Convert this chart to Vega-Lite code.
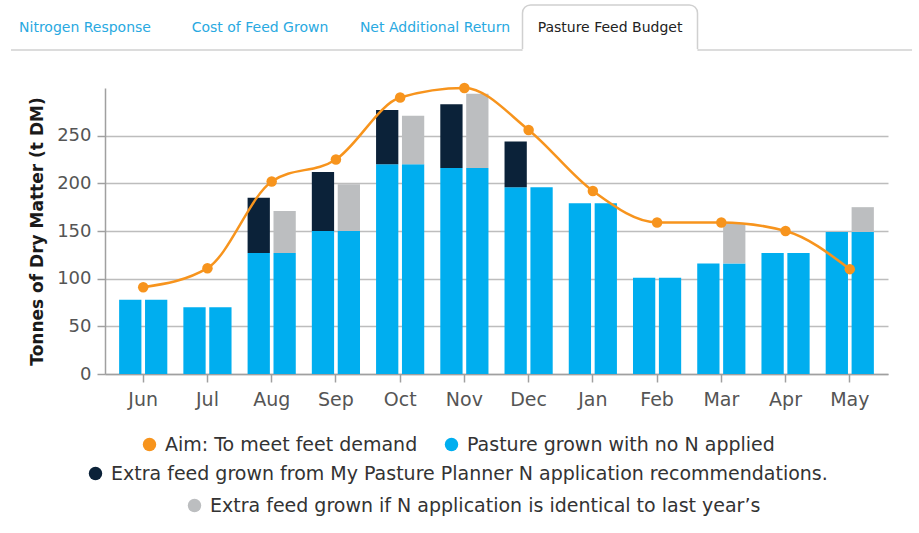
{
  "$schema": "https://vega.github.io/schema/vega-lite/v6.json",
  "background": "white",
  "padding": {"left": 10, "top": 4, "right": 5, "bottom": 5},
  "spacing": 30,
  "config": {
    "font": "DejaVu Sans",
    "view": {"stroke": null},
    "legend": {
      "title": null,
      "padding": 0,
      "labelFontSize": 19,
      "labelColor": "#333333",
      "labelLimit": 1000,
      "labelOffset": 6,
      "symbolType": "circle",
      "symbolSize": 180,
      "symbolStrokeWidth": 0,
      "symbolOpacity": 1
    }
  },
  "datasets": {
    "tabs": [
      {"tab": "Nitrogen Response", "active": false},
      {"tab": "Cost of Feed Grown", "active": false},
      {"tab": "Net Additional Return", "active": false},
      {"tab": "Pasture Feed Budget", "active": true}
    ],
    "frame": [
      {"start": "Nitrogen Response", "end": "e2"}
    ],
    "bars": [
      {"month": "Jun", "bar": "A", "base": 78, "top": 78},
      {"month": "Jun", "bar": "B", "base": 78, "top": 78},
      {"month": "Jul", "bar": "A", "base": 70, "top": 70},
      {"month": "Jul", "bar": "B", "base": 70, "top": 70},
      {"month": "Aug", "bar": "A", "base": 127, "top": 185},
      {"month": "Aug", "bar": "B", "base": 127, "top": 171},
      {"month": "Sep", "bar": "A", "base": 150, "top": 212},
      {"month": "Sep", "bar": "B", "base": 150, "top": 199},
      {"month": "Oct", "bar": "A", "base": 220, "top": 277},
      {"month": "Oct", "bar": "B", "base": 220, "top": 271},
      {"month": "Nov", "bar": "A", "base": 216, "top": 283},
      {"month": "Nov", "bar": "B", "base": 216, "top": 294},
      {"month": "Dec", "bar": "A", "base": 196, "top": 244},
      {"month": "Dec", "bar": "B", "base": 196, "top": 196},
      {"month": "Jan", "bar": "A", "base": 179, "top": 179},
      {"month": "Jan", "bar": "B", "base": 179, "top": 179},
      {"month": "Feb", "bar": "A", "base": 101, "top": 101},
      {"month": "Feb", "bar": "B", "base": 101, "top": 101},
      {"month": "Mar", "bar": "A", "base": 116, "top": 116},
      {"month": "Mar", "bar": "B", "base": 116, "top": 158},
      {"month": "Apr", "bar": "A", "base": 127, "top": 127},
      {"month": "Apr", "bar": "B", "base": 127, "top": 127},
      {"month": "May", "bar": "A", "base": 149, "top": 149},
      {"month": "May", "bar": "B", "base": 149, "top": 175}
    ],
    "aim": [
      {"month": "Jun", "aim": 91},
      {"month": "Jul", "aim": 111},
      {"month": "Aug", "aim": 202},
      {"month": "Sep", "aim": 225},
      {"month": "Oct", "aim": 290},
      {"month": "Nov", "aim": 300},
      {"month": "Dec", "aim": 256},
      {"month": "Jan", "aim": 192},
      {"month": "Feb", "aim": 159},
      {"month": "Mar", "aim": 159},
      {"month": "Apr", "aim": 150},
      {"month": "May", "aim": 110}
    ]
  },
  "vconcat": [
    {
      "width": 783,
      "height": 45,
      "layer": [
        {
          "data": {"name": "frame"},
          "mark": {"type": "rule", "color": "#d0d0d0", "strokeWidth": 1.5},
          "encoding": {
            "x": {"field": "start", "type": "nominal", "bandPosition": 0.077,
              "scale": {"domain": ["Nitrogen Response", "Cost of Feed Grown", "Net Additional Return", "Pasture Feed Budget", "e1", "e2"], "range": [-107.5, 942.5], "paddingInner": 0, "paddingOuter": 0},
              "axis": null},
            "x2": {"field": "end", "bandPosition": 0.226},
            "y": {"datum": 0, "type": "quantitative", "scale": {"domain": [0, 1], "nice": false}, "axis": null}
          }
        },
        {
          "data": {"name": "tabs"},
          "transform": [{"filter": "datum.active"}],
          "mark": {"type": "rect", "fill": "white", "stroke": "#d0d0d0", "strokeWidth": 1.5, "cornerRadiusTopLeft": 8, "cornerRadiusTopRight": 8},
          "encoding": {
            "x": {"field": "tab", "type": "nominal", "axis": null},
            "y": {"datum": 1, "type": "quantitative"},
            "y2": {"datum": 0}
          }
        },
        {
          "data": {"name": "tabs"},
          "transform": [{"filter": "datum.active"}],
          "mark": {"type": "rect", "fill": "white"},
          "encoding": {
            "x": {"field": "tab", "type": "nominal", "axis": null},
            "y": {"datum": 0.025, "type": "quantitative"},
            "y2": {"datum": -0.035}
          }
        },
        {
          "data": {"name": "tabs"},
          "mark": {"type": "text", "fontSize": 14},
          "encoding": {
            "x": {"field": "tab", "type": "nominal", "axis": null},
            "text": {"field": "tab"},
            "color": {"condition": {"test": "datum.active", "value": "#222222"}, "value": "#29a9e1"}
          }
        }
      ]
    },
    {
      "width": 783,
      "height": 286,
      "layer": [
        {
          "data": {"name": "bars"},
          "mark": {"type": "bar", "strokeWidth": 0},
          "encoding": {
            "x": {"field": "month", "type": "nominal",
              "scale": {"domain": ["Jun", "Jul", "Aug", "Sep", "Oct", "Nov", "Dec", "Jan", "Feb", "Mar", "Apr", "May"], "paddingInner": 0.25, "paddingOuter": 0.22},
              "axis": {"title": null, "labelAngle": 0, "labelFontSize": 19, "labelColor": "#555555", "tickSize": 8, "tickColor": "#a0a0a0", "tickWidth": 1.5, "domainColor": "#a0a0a0", "domainWidth": 1.5, "labelPadding": 8, "grid": false}},
            "xOffset": {"field": "bar", "type": "nominal", "scale": {"domain": ["A", "B"], "paddingInner": 0.14, "paddingOuter": 0}},
            "y": {"field": "base", "type": "quantitative", "title": "Tonnes of Dry Matter (t DM)",
              "scale": {"domain": [0, 300], "nice": false},
              "axis": {"values": [0, 50, 100, 150, 200, 250], "grid": true, "gridColor": "#bdbdbd", "gridWidth": 1.5, "domainColor": "#a0a0a0", "domainWidth": 1.5, "tickColor": "#a0a0a0", "tickWidth": 1.5, "tickSize": 8, "labelFontSize": 18, "labelColor": "#555555", "labelPadding": 6, "titleFontSize": 17, "titleFontWeight": "bold", "titleColor": "#1a1a1a", "titlePadding": 10}},
            "fill": {"datum": "Pasture grown with no N applied", "type": "nominal",
              "scale": {"range": ["#00aeef"]},
              "legend": {"orient": "none", "legendX": 337, "legendY": 430, "symbolFillColor": "#00aeef"}}
          }
        },
        {
          "data": {"name": "bars"},
          "transform": [{"filter": "datum.bar == 'A' && datum.top > datum.base"}],
          "mark": {"type": "bar", "fill": "#0b2239", "strokeWidth": 0},
          "encoding": {
            "x": {"field": "month", "type": "nominal"},
            "xOffset": {"field": "bar", "type": "nominal"},
            "y": {"field": "top", "type": "quantitative", "title": "Tonnes of Dry Matter (t DM)"},
            "y2": {"field": "base"},
            "stroke": {"datum": "Extra feed grown from My Pasture Planner N application recommendations.", "type": "nominal",
              "scale": {"range": ["#0b2239"]},
              "legend": {"orient": "none", "legendX": -19, "legendY": 459, "symbolFillColor": "#0b2239"}}
          }
        },
        {
          "data": {"name": "bars"},
          "transform": [{"filter": "datum.bar == 'B' && datum.top > datum.base"}],
          "mark": {"type": "bar", "fill": "#bcbec0", "strokeWidth": 0},
          "encoding": {
            "x": {"field": "month", "type": "nominal"},
            "xOffset": {"field": "bar", "type": "nominal"},
            "y": {"field": "top", "type": "quantitative", "title": "Tonnes of Dry Matter (t DM)"},
            "y2": {"field": "base"},
            "opacity": {"datum": "Extra feed grown if N application is identical to last year’s", "type": "nominal",
              "scale": {"range": [1]},
              "legend": {"orient": "none", "legendX": 80, "legendY": 491, "symbolFillColor": "#bcbec0"}}
          }
        },
        {
          "data": {"name": "aim"},
          "mark": {"type": "line", "color": "#f7941d", "strokeWidth": 2.5, "interpolate": "monotone"},
          "encoding": {
            "x": {"field": "month", "type": "nominal"},
            "y": {"field": "aim", "type": "quantitative", "title": "Tonnes of Dry Matter (t DM)"}
          }
        },
        {
          "data": {"name": "aim"},
          "mark": {"type": "point", "filled": true, "size": 110, "opacity": 1},
          "encoding": {
            "x": {"field": "month", "type": "nominal"},
            "y": {"field": "aim", "type": "quantitative", "title": "Tonnes of Dry Matter (t DM)"},
            "color": {"datum": "Aim: To meet feet demand", "type": "nominal",
              "scale": {"range": ["#f7941d"]},
              "legend": {"orient": "none", "legendX": 35, "legendY": 430, "symbolFillColor": "#f7941d"}}
          }
        }
      ]
    }
  ]
}
